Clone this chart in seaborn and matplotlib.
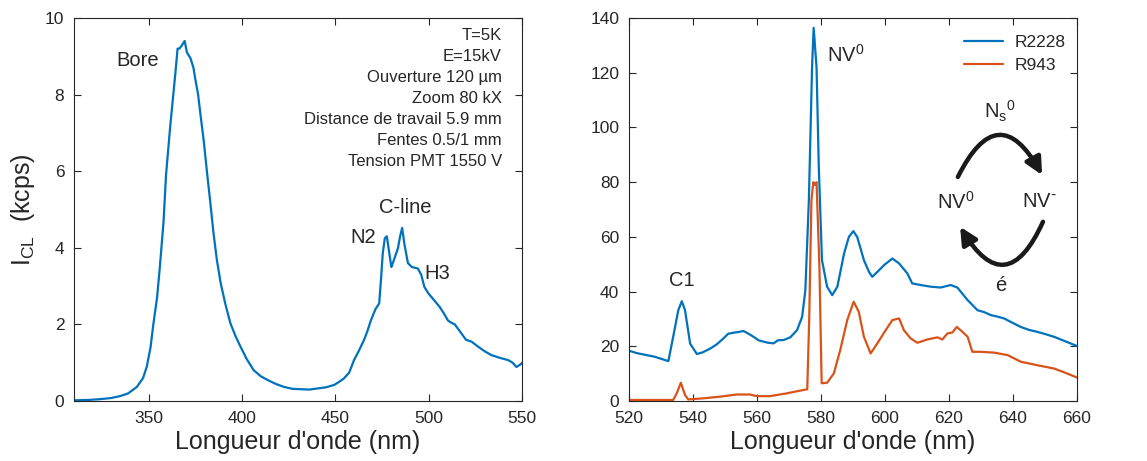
import numpy as np
import pandas as pd
import matplotlib.pyplot as plt
import seaborn as sns

sns.set_theme(style="ticks")
plt.rcParams["font.family"] = ["Liberation Sans", "DejaVu Sans"]
plt.rcParams["mathtext.default"] = "regular"

BLUE = "#0072BD"
ORANGE = "#D95319"
GREY = "#262626"

# --- panneau gauche : spectre UV-bleu ---
wl_left = [310, 318, 324, 330, 334.7, 339, 343.7, 347, 349, 351, 352.5, 354.5, 356,
           358, 359.3, 361.6, 363, 364.3, 365.5, 366.5, 368, 369.3, 370.5, 372.4, 374,
           375, 376.5, 377.7, 379.5, 381.3, 383, 384.7, 386.5, 388.5, 391, 393.8, 396.5,
           399.2, 402.5, 406.2, 410, 413.7, 418, 422.4, 427, 431.5, 436, 440.6, 445,
           449.3, 452, 454.6, 457.5, 460, 462.5, 465.4, 467, 469, 471.5, 473.5, 474.5,
           475.4, 476.5, 477.6, 478.8, 480, 480.8, 482.2, 483.5, 484.7, 485.8, 487,
           488.9, 491, 494.2, 496, 497.7, 500, 503, 506, 508, 510.4, 512, 514, 517.5,
           520, 523, 526.5, 530, 533.6, 538, 542.6, 545, 547, 549, 550.6]
i_left = [0.02, 0.03, 0.05, 0.08, 0.13, 0.2, 0.37, 0.6, 0.9, 1.4, 2.0, 2.7, 3.5,
          4.7, 5.9, 7.2, 7.9, 8.55, 9.2, 9.2, 9.3, 9.4, 9.1, 8.95, 8.7,
          8.4, 8.0, 7.5, 6.8, 5.95, 5.2, 4.4, 3.7, 3.1, 2.55, 2.03, 1.7,
          1.42, 1.1, 0.81, 0.65, 0.55, 0.45, 0.37, 0.32, 0.31, 0.3, 0.33, 0.36,
          0.42, 0.5, 0.59, 0.75, 1.07, 1.3, 1.6, 1.8, 2.1, 2.4, 2.55, 3.2,
          3.85, 4.25, 4.3, 3.9, 3.5, 3.6, 3.8, 3.98, 4.3, 4.52, 4.1,
          3.6, 3.5, 3.46, 3.3, 2.98, 2.8, 2.63, 2.45, 2.3, 2.1, 2.05, 2.0, 1.77,
          1.6, 1.55, 1.42, 1.3, 1.2, 1.13, 1.07, 1.0, 0.89, 0.95, 1.02]

# --- panneau droit : bande NV ---
wl_r2228 = [520, 522.5, 525.5, 528, 530.7, 532.3, 533.8, 535.4, 536.5, 537.5, 539.1, 541.2,
            543, 545.4, 547.5, 549.5, 551, 552.7, 554, 555.8, 557.5, 558.9, 560.5, 562.1,
            563.5, 565.2, 566.5, 568.3, 570.4, 572.5, 574.1, 575.1,
            576.2, 577.2, 577.7, 578.6, 579.3, 580.3, 581.9, 583.5, 585.1, 587.2, 588.7,
            590.1, 591.3, 593.4, 595, 596, 597.6, 599.7, 602.3, 604.4, 607, 608.5,
            611.2, 614.3, 617.4, 620.5, 622.6, 625.8, 628.9, 631, 633.1, 635, 637.2,
            640, 642.4, 645, 647.6, 650, 652.8, 656, 660]
i_r2228 = [18.4, 17.5, 16.8, 16.2, 15.2, 14.6, 23.5, 33.2, 36.5, 33.2, 21, 17.2,
           17.8, 19.2, 20.8, 22.9, 24.6, 25, 25.2, 25.6, 24.5, 23.5, 22.2, 21.7,
           21.3, 21.1, 22.2, 22.3, 23.3, 25.9, 30.8, 40.5,
           73.4, 122, 136.4, 122, 85.6, 51.5, 41.8, 38.7, 41.8, 53.9, 60,
           62.1, 60, 51.5, 47.2, 45.4, 47.2, 49.7, 52.1, 50.3, 46.6, 43,
           42.4, 41.8, 41.5, 42.4, 41.5, 36.9, 33.2, 32.5, 31.4, 30.9, 30.2,
           28.5, 27.1, 26.0, 25.3, 24.5, 23.5, 22.0, 20.1]

wl_r943 = [520, 533.8, 534.9, 536.2, 537.5, 538.5, 543.2, 548.4, 553.6, 557.8, 559.9,
           564, 569.2, 573.4, 575.7, 576.3, 577.0, 577.6, 578.1, 578.6, 579.5, 580.2,
           581.9, 584, 586, 588.2, 590.2, 591.8, 593.4, 595.5, 597.6, 600.2, 602.3,
           604.4, 605.9, 608, 610.1, 613.2, 616.4, 617.9, 619.5, 621.1, 622.4, 624.2,
           625.8, 627.3, 630, 634.1, 638.3, 642.4, 647.6, 652.8, 656, 660]
i_r943 = [0.4, 0.4, 2.8, 6.7, 2.2, 0.6, 1.0, 1.6, 2.4, 2.4, 1.8,
          1.8, 2.8, 3.8, 4.3, 29.6, 73.4, 80, 79, 80, 49, 6.5,
          6.7, 10.1, 18.6, 29.6, 36.3, 32.6, 23.5, 17.4, 21.1, 25.9, 29.6,
          30.2, 25.9, 22.9, 21.3, 22.5, 23.3, 22.5, 24.7, 25.1, 27.1, 25.3,
          23.5, 18, 18, 17.7, 16.8, 14.4, 13.1, 11.9, 10.5, 8.6]

conditions = ["T=5K", "E=15kV", "Ouverture 120 µm", "Zoom 80 kX",
              "Distance de travail 5.9 mm", "Fentes 0.5/1 mm", "Tension PMT 1550 V"]

fig = plt.figure(figsize=(11.47, 4.61), dpi=100)
ax1 = fig.add_axes([0.0645, 0.130, 0.3906, 0.831])
ax2 = fig.add_axes([0.5484, 0.130, 0.3906, 0.831])

sns.lineplot(x=wl_left, y=i_left, ax=ax1, color=BLUE, lw=1.6, sort=False)
sns.lineplot(x=wl_r2228, y=i_r2228, ax=ax2, color=BLUE, lw=1.6, sort=False, label="R2228")
sns.lineplot(x=wl_r943, y=i_r943, ax=ax2, color=ORANGE, lw=1.6, sort=False, label="R943")

ax1.set_xlim(310, 550)
ax1.set_ylim(0, 10)
ax1.set_xticks([350, 400, 450, 500, 550])
ax1.set_yticks([0, 2, 4, 6, 8, 10])
ax2.set_xlim(520, 660)
ax2.set_ylim(0, 140)
ax2.set_xticks(range(520, 661, 20))
ax2.set_yticks(range(0, 141, 20))

for ax in (ax1, ax2):
    ax.tick_params(direction="in", top=True, right=True, length=5, width=0.8,
                   labelsize=12.5, colors=GREY, pad=7)
    for s in ax.spines.values():
        s.set_color(GREY)
        s.set_linewidth(0.8)
    ax.set_xlabel("Longueur d'onde (nm)", fontsize=18, color=GREY, labelpad=3)

ax1.set_ylabel(r"I$_{CL}$  (kcps)", fontsize=18, color=GREY, labelpad=6)

# annotations gauche
ax1.text(344, 8.9, "Bore", fontsize=14.5, ha="center", va="center")
ax1.text(487.7, 5.04, "C-line", fontsize=14.5, ha="center", va="center")
ax1.text(464.8, 4.26, "N2", fontsize=14.5, ha="center", va="center")
ax1.text(504.6, 3.34, "H3", fontsize=14.5, ha="center", va="center")
ax1.text(0.955, 0.975, "\n".join(conditions), transform=ax1.transAxes,
         fontsize=12, ha="right", va="top", linespacing=1.5)

# annotations droite
ax2.text(536.6, 44.2, "C1", fontsize=14.5, ha="center", va="center")
ax2.text(581.8, 126.5, r"NV$^{0}$", fontsize=14.5, ha="left", va="center")
ax2.text(636, 106, r"N$_{s}{}^{0}$", fontsize=14.5, ha="center", va="center")
ax2.text(622.2, 72.8, r"NV$^{0}$", fontsize=14.5, ha="center", va="center")
ax2.text(648.1, 72.8, r"NV$^{\text{-}}$", fontsize=14.5, ha="center", va="center")
ax2.text(636.3, 42.4, "é", fontsize=14.5, ha="center", va="center")

arrow = dict(arrowstyle="-|>,head_length=0.85,head_width=0.42", lw=3.2, color="k",
             shrinkA=0, shrinkB=0, connectionstyle="arc3,rad=-0.95")
ax2.annotate("", xy=(0.922, 0.590), xytext=(0.734, 0.585), xycoords="axes fraction",
             arrowprops=arrow)
ax2.annotate("", xy=(0.739, 0.455), xytext=(0.924, 0.468), xycoords="axes fraction",
             arrowprops=arrow)

leg = ax2.legend(loc="upper right", frameon=False, fontsize=12.5, handlelength=2.2,
                 borderaxespad=0.25, labelspacing=0.45, handletextpad=0.7,
                 bbox_to_anchor=(1.0, 0.985))

fig.savefig("out.png", dpi=100)
